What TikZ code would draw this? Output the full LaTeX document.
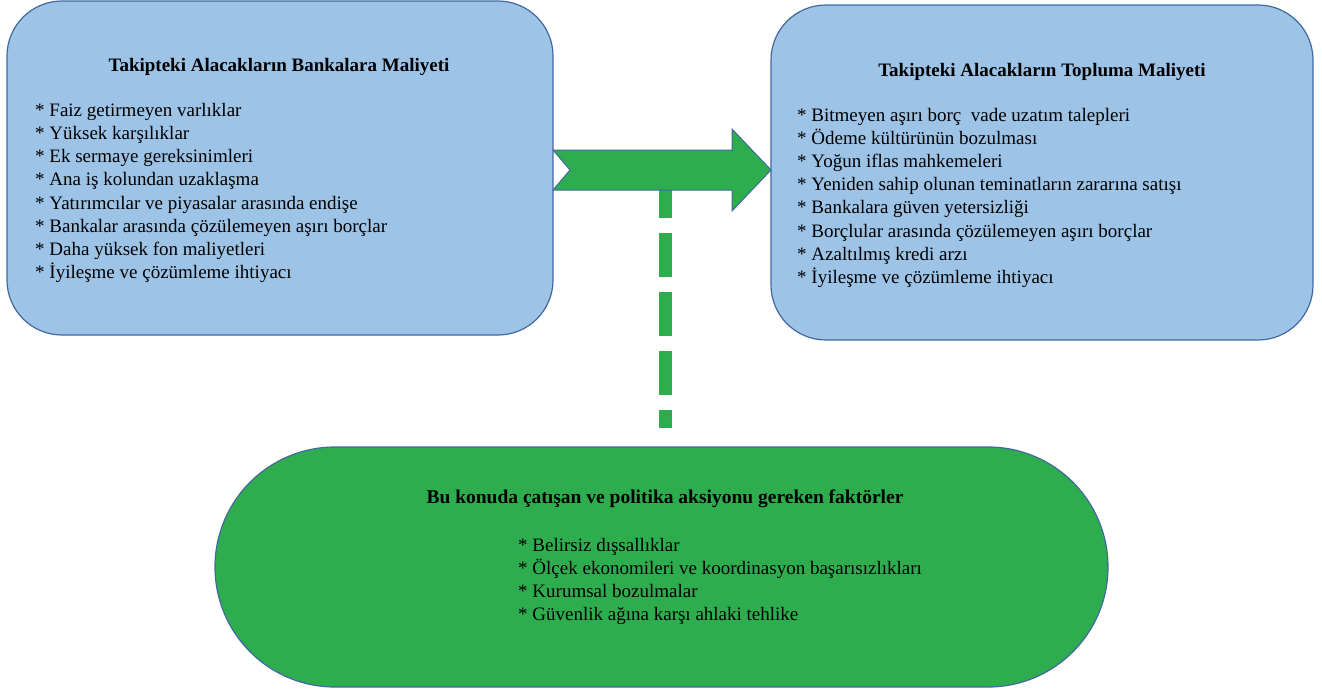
\documentclass[tikz,border=0pt]{standalone}
\usepackage{fontspec}
\setmainfont{Liberation Serif}
\definecolor{boxblue}{RGB}{157,195,230}
\definecolor{edgeblue}{RGB}{65,105,160}
\definecolor{flowgreen}{RGB}{46,173,79}
\tikzset{
  costbox/.style={draw=edgeblue, line width=1.2pt, fill=boxblue, rounded corners=55pt, inner sep=0pt},
  factorbox/.style={draw=edgeblue, line width=1.2pt, fill=flowgreen, rounded corners=120pt, inner sep=0pt},
  titletext/.style={font=\fontsize{19}{23}\selectfont\bfseries, inner sep=0pt, anchor=base},
  itemtext/.style={font=\fontsize{19}{23}\selectfont, inner sep=0pt, anchor=base west},
  bigarrow/.style={draw=edgeblue, line width=1pt, fill=flowgreen, line join=miter},
  dashlink/.style={draw=flowgreen, line width=13pt, dash pattern=on 44pt off 15pt}
}
\begin{document}
\begin{tikzpicture}[x=1pt,y=-1pt]
\useasboundingbox (0,0) rectangle (1322,691);
% boxes
\draw[costbox] (7,1) rectangle (553,335);
\node (bankbox) at (280,168) [minimum width=546pt, minimum height=334pt] {};
\draw[costbox] (771,5) rectangle (1313,340);
\node (socbox) at (1042,172.5) [minimum width=542pt, minimum height=335pt] {};
\draw[factorbox] (215,447) rectangle (1108,687);
\node (factbox) at (661.5,567) [minimum width=893pt, minimum height=240pt] {};
% dashed connector
\coordinate (dashstart) at (665,174);
\coordinate (dashend) at (665,428);
\draw[dashlink] (dashstart) -- (dashend);
% notched arrow
\coordinate (atail) at (553,170);
\coordinate (atip) at (771,170);
\draw[bigarrow] (553,150) -- (732,150) -- (732,129) -- (atip) -- (732,211) -- (732,190) -- (553,190) -- (570,170) -- cycle;
% left texts
\node[titletext] (bankTitle) at (279,71) {Takipteki Alacakların Bankalara Maliyeti};
\foreach \i/\t in {0/Faiz getirmeyen varlıklar, 1/Yüksek karşılıklar, 2/Ek sermaye gereksinimleri, 3/Ana iş kolundan uzaklaşma, 4/Yatırımcılar ve piyasalar arasında endişe, 5/Bankalar arasında çözülemeyen aşırı borçlar, 6/Daha yüksek fon maliyetleri, 7/İyileşme ve çözümleme ihtiyacı}
  \node[itemtext] (bankItem\i) at (35,{116.5+23.15*\i}) {* \t};
% right texts
\node[titletext] (socTitle) at (1042,76.5) {Takipteki Alacakların Topluma Maliyeti};
\foreach \i/\t in {0/Bitmeyen aşırı borç\ \ vade uzatım talepleri, 1/Ödeme kültürünün bozulması, 2/Yoğun iflas mahkemeleri, 3/Yeniden sahip olunan teminatların zararına satışı, 4/Bankalara güven yetersizliği, 5/Borçlular arasında çözülemeyen aşırı borçlar, 6/Azaltılmış kredi arzı, 7/İyileşme ve çözümleme ihtiyacı}
  \node[itemtext] (socItem\i) at (797,{121.5+23.1*\i}) {* \t};
% bottom texts
\node[titletext, font=\fontsize{19.5}{23}\selectfont\bfseries] (factTitle) at (665,503.5) {Bu konuda çatışan ve politika aksiyonu gereken faktörler};
\foreach \i/\t in {0/Belirsiz dışsallıklar, 1/Ölçek ekonomileri ve koordinasyon başarısızlıkları, 2/Kurumsal bozulmalar, 3/Güvenlik ağına karşı ahlaki tehlike}
  \node[itemtext] (factItem\i) at (518,{551.5+23*\i}) {* \t};
\end{tikzpicture}
\end{document}
